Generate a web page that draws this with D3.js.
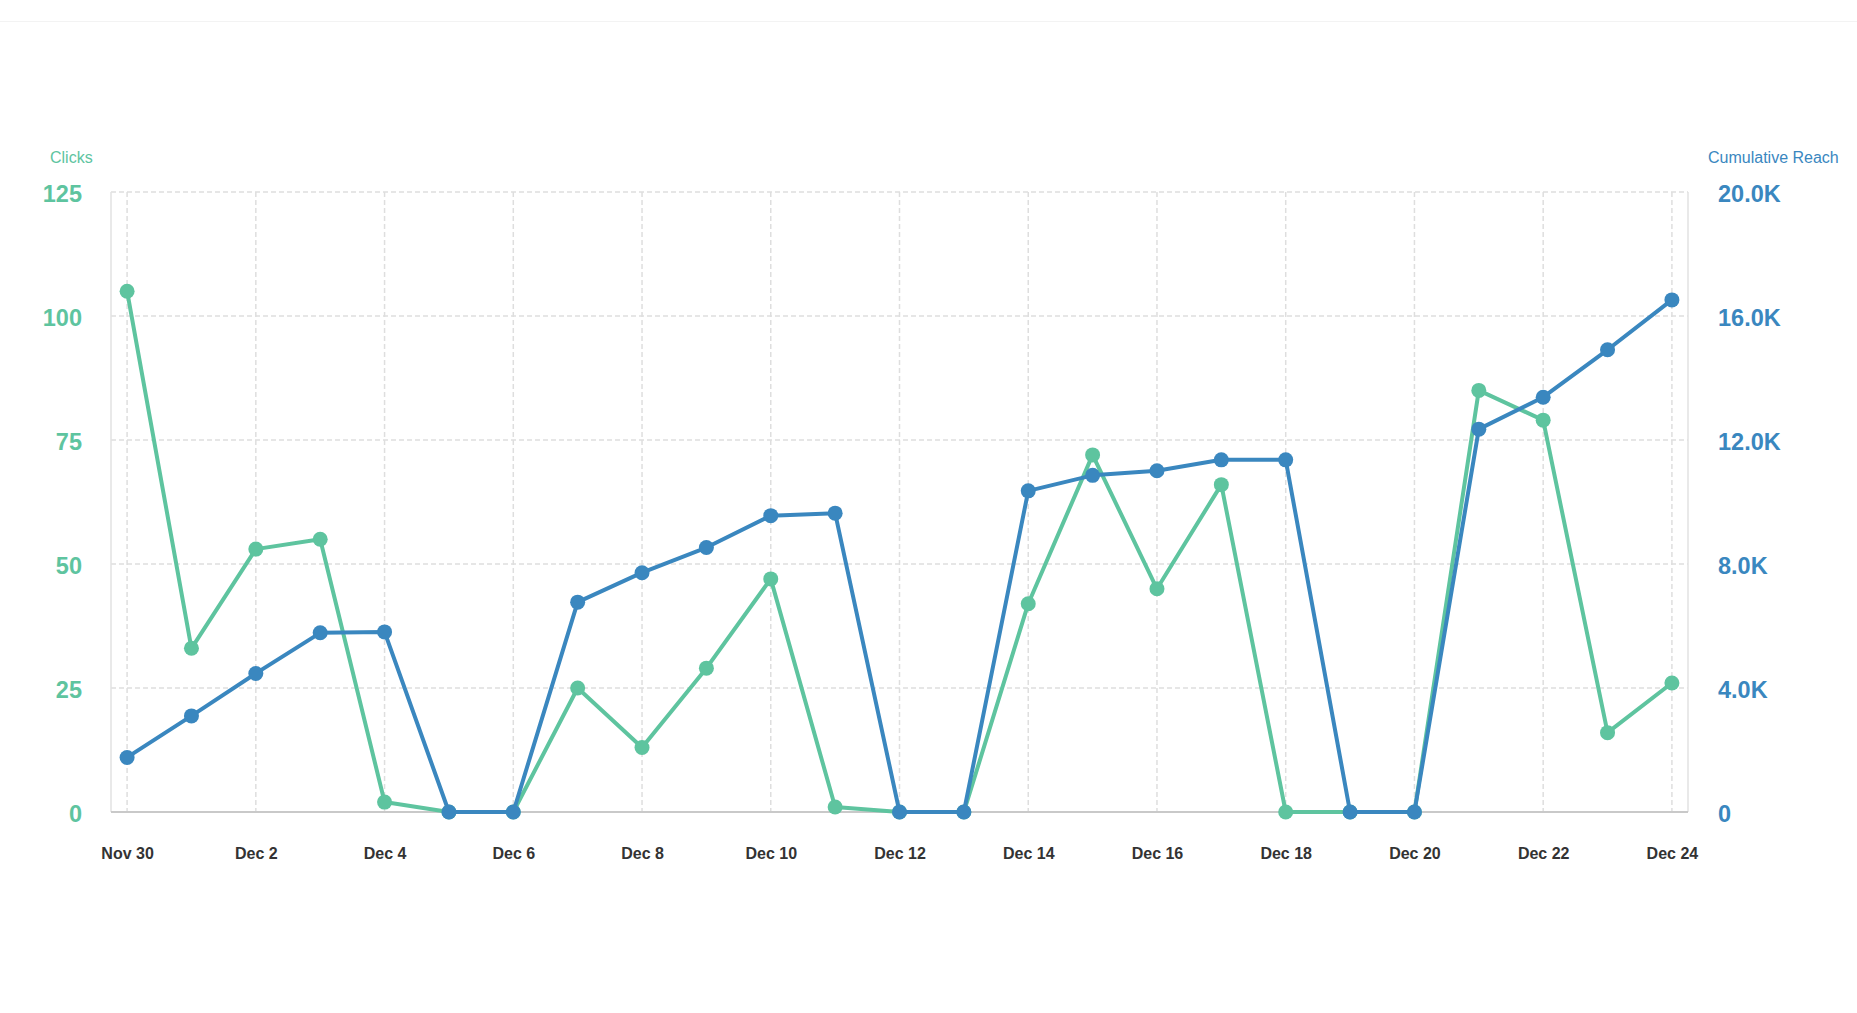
<!DOCTYPE html>
<html>
<head>
<meta charset="utf-8">
<script src="https://cdn.jsdelivr.net/npm/d3@7"></script>
<style>
  html, body { margin: 0; padding: 0; background: #fff; }
  body { font-family: "Liberation Sans", Arial, Helvetica, sans-serif; }
  #topbar { height: 21px; border-bottom: 1px solid #f3f3f3; }
</style>
</head>
<body>
<div id="topbar"></div>
<div id="chart"></div>
<script>
// dates Nov 30 .. Dec 24 (one point per day)
const dates = d3.timeDays(new Date(2023, 10, 30), new Date(2023, 11, 25));

const clicks = [105, 33, 53, 55, 2, 0, 0, 25, 13, 29, 47, 1, 0, 0, 42, 72, 45, 66, 0, 0, 0, 85, 79, 16, 26];

const reach = [1760, 3100, 4470, 5780, 5810, 0, 0, 6770, 7720, 8530, 9560, 9640, 0, 0,
  10360, 10860, 11010, 11360, 11360, 0, 0, 12350, 13380, 14910, 16520];

const clicksTicks = [0, 25, 50, 75, 100, 125];
const reachTicks = [0, 4000, 8000, 12000, 16000, 20000];

const GREEN = "#5ec49f";
const BLUE = "#3a87bf";

function drawChart({
  width = 1857,
  height = 992,
  margin = { top: 170, right: 169, bottom: 202, left: 111 }
} = {}) {
  const innerW = width - margin.left - margin.right;
  const innerH = height - margin.top - margin.bottom;

  const svg = d3.select("#chart").append("svg")
    .attr("width", width)
    .attr("height", height);

  const g = svg.append("g")
    .attr("transform", `translate(${margin.left},${margin.top})`);

  const pad = 0.25 * 864e5; // quarter day of padding on each side
  const x = d3.scaleTime()
    .domain([+dates[0] - pad, +dates[dates.length - 1] + pad])
    .range([0, innerW]);

  const yL = d3.scaleLinear().domain([0, 125]).range([innerH, 0]);
  const yR = d3.scaleLinear().domain([0, 20000]).range([innerH, 0]);

  // grid
  const tickDates = dates.filter((d, i) => i % 2 === 0);

  g.append("g")
    .selectAll("line")
    .data(clicksTicks.slice(1))
    .enter()
    .append("line")
    .attr("x1", 0)
    .attr("x2", innerW)
    .attr("y1", d => yL(d))
    .attr("y2", d => yL(d))
    .attr("stroke", "#dedede")
    .attr("stroke-width", 1.5)
    .attr("stroke-dasharray", "5,3");

  g.append("g")
    .selectAll("line")
    .data(tickDates)
    .enter()
    .append("line")
    .attr("x1", d => x(d))
    .attr("x2", d => x(d))
    .attr("y1", 0)
    .attr("y2", innerH)
    .attr("stroke", "#dedede")
    .attr("stroke-width", 1.5)
    .attr("stroke-dasharray", "5,3");

  // plot sides
  [0, innerW].forEach(px => {
    g.append("line")
      .attr("x1", px).attr("x2", px)
      .attr("y1", 0).attr("y2", innerH)
      .attr("stroke", "#e2e2e2")
      .attr("stroke-width", 1.5);
  });

  // baseline
  g.append("line")
    .attr("x1", 0).attr("x2", innerW)
    .attr("y1", innerH).attr("y2", innerH)
    .attr("stroke", "#c9c9c9")
    .attr("stroke-width", 2);

  // x axis labels
  const xAxis = g.append("g")
    .attr("transform", `translate(0,${innerH})`)
    .call(d3.axisBottom(x).tickValues(tickDates).tickFormat(d3.timeFormat("%b %-d")).tickSize(0).tickPadding(36));
  xAxis.select(".domain").remove();
  xAxis.selectAll("text")
    .attr("font-family", "\"Liberation Sans\", Arial, sans-serif")
    .attr("font-size", 16)
    .attr("font-weight", "bold")
    .attr("fill", "#333");

  // left axis
  const leftAxis = g.append("g")
    .call(d3.axisLeft(yL).tickValues(clicksTicks).tickSize(0).tickPadding(29));
  leftAxis.select(".domain").remove();
  leftAxis.selectAll("text")
    .attr("font-family", "\"Liberation Sans\", Arial, sans-serif")
    .attr("font-size", 23.5)
    .attr("font-weight", "bold")
    .attr("fill", GREEN)
    .attr("dy", "0.4em");

  // right axis
  const rightAxis = g.append("g")
    .attr("transform", `translate(${innerW},0)`)
    .call(d3.axisRight(yR).tickValues(reachTicks)
      .tickFormat(d => d === 0 ? "0" : d3.format(".1f")(d / 1000) + "K")
      .tickSize(0).tickPadding(30));
  rightAxis.select(".domain").remove();
  rightAxis.selectAll("text")
    .attr("font-family", "\"Liberation Sans\", Arial, sans-serif")
    .attr("font-size", 23.5)
    .attr("font-weight", "bold")
    .attr("fill", BLUE)
    .attr("dy", "0.4em");

  // axis titles
  g.append("text")
    .attr("x", -61)
    .attr("y", -29)
    .attr("font-size", 16)
    .attr("fill", GREEN)
    .text("Clicks");

  g.append("text")
    .attr("x", innerW + 20)
    .attr("y", -29)
    .attr("font-size", 16)
    .attr("fill", BLUE)
    .text("Cumulative Reach");

  // series
  const series = [
    { values: clicks, y: yL, color: GREEN },
    { values: reach, y: yR, color: BLUE }
  ];

  series.forEach(s => {
    const line = d3.line()
      .x((d, i) => x(dates[i]))
      .y(d => s.y(d));

    g.append("path")
      .datum(s.values)
      .attr("fill", "none")
      .attr("stroke", s.color)
      .attr("stroke-width", 4)
      .attr("stroke-linejoin", "round")
      .attr("d", line);

    g.append("g")
      .selectAll("circle")
      .data(s.values)
      .enter()
      .append("circle")
      .attr("cx", (d, i) => x(dates[i]))
      .attr("cy", d => s.y(d))
      .attr("r", 7.5)
      .attr("fill", s.color);
  });
}

drawChart();
</script>
</body>
</html>
